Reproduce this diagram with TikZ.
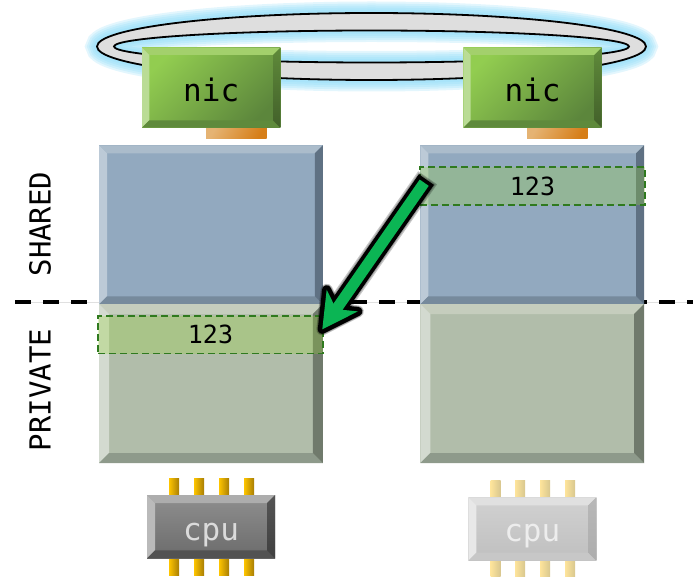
\documentclass[tikz,border=0pt]{standalone}
\usepackage{fontspec}
\setmonofont{DejaVu Sans Mono}
\usetikzlibrary{calc}
\definecolor{glowc}{HTML}{8FDCF8}
\definecolor{arrowg}{HTML}{0BB554}
\definecolor{niclight}{HTML}{92CD50}
\definecolor{nicdark}{HTML}{5C863C}
\definecolor{nicTop}{HTML}{A3D06C}
\definecolor{nicLeft}{HTML}{BADC95}
\definecolor{nicBot}{HTML}{5F8A3C}
\definecolor{nicRA}{HTML}{5F8A3A}
\definecolor{nicRB}{HTML}{42602A}
\definecolor{portlight}{HTML}{E5B373}
\definecolor{portdark}{HTML}{D67E18}
\definecolor{sharedface}{HTML}{92A9BF}
\definecolor{shTop}{HTML}{ABBCCB}
\definecolor{shLeft}{HTML}{BCCAD7}
\definecolor{shBot}{HTML}{768A9C}
\definecolor{shRight}{HTML}{5F7183}
\definecolor{privateface}{HTML}{B1BDAA}
\definecolor{prTop}{HTML}{C5CDBD}
\definecolor{prLeft}{HTML}{D3DAD0}
\definecolor{prBot}{HTML}{8E9A8B}
\definecolor{prRight}{HTML}{707A6C}
\definecolor{stripeline}{HTML}{2F7A1E}
\definecolor{stripefill}{HTML}{96D731}
\definecolor{pinA}{HTML}{FDC400}
\definecolor{pinB}{HTML}{A87E05}
\definecolor{pinC}{HTML}{FEE49B}
\definecolor{pinD}{HTML}{D8C78F}
\newcommand{\bevelon}[7]{%
  \coordinate (i1) at ([shift={(#2,#2)}]#1.north west);
  \coordinate (i2) at ([shift={(-#2,#2)}]#1.north east);
  \coordinate (i3) at ([shift={(-#2,-#2)}]#1.south east);
  \coordinate (i4) at ([shift={(#2,-#2)}]#1.south west);
  \fill[#3] (#1.north west) -- (#1.north east) -- (i2) -- (i1) -- cycle;
  \fill[#4] (#1.north west) -- (i1) -- (i4) -- (#1.south west) -- cycle;
  \fill[#5] (#1.south west) -- (i4) -- (i3) -- (#1.south east) -- cycle;
  \shade[top color=#6,bottom color=#7] (#1.north east) -- (#1.south east) -- (i3) -- (i2) -- cycle;
}
\newcommand{\pinrow}[3]{%
  \foreach \px in {#1}{\shade[#2] (\px,#3) rectangle ++(10,97);}
}
\tikzset{
  boxbase/.style={rectangle,inner sep=0pt,outer sep=0pt,anchor=north west,draw=none},
  nicbox/.style={boxbase,minimum width=138.4pt,minimum height=80pt,top color=niclight,
    bottom color=nicdark,shading angle=45,text height=28pt,text depth=0pt,
    font=\ttfamily\fontsize{31}{31}\selectfont,text=black},
  nicport/.style={boxbase,minimum width=60.5pt,minimum height=11pt,top color=portlight,bottom color=portdark,shading angle=60},
  sharedbox/.style={boxbase,minimum width=223.8pt,minimum height=159pt,fill=sharedface},
  privatebox/.style={boxbase,minimum width=223.8pt,minimum height=159pt,fill=privateface},
  stripe/.style={boxbase,minimum width=225pt,minimum height=37.8pt,draw=stripeline,line width=1.6pt,
    dash pattern=on 7pt off 4pt,fill=stripefill,fill opacity=.27,text opacity=1,
    font=\ttfamily\fontsize{25}{25}\selectfont,text=black},
  cpuA/.style={boxbase,minimum width=128pt,minimum height=63.4pt,top color=black!44,bottom color=black!58,
    text height=26.6pt,text depth=0pt,font=\ttfamily\fontsize{31}{31}\selectfont,text=black!14},
  cpuB/.style={boxbase,minimum width=128pt,minimum height=63.4pt,top color=black!18,bottom color=black!25,
    text height=25.6pt,text depth=0pt,font=\ttfamily\fontsize{31}{31}\selectfont,text=black!7},
  pinstrong/.style={left color=pinA,right color=pinB},
  pinpale/.style={left color=pinC,right color=pinD},
  sidelabel/.style={rotate=90,inner sep=0pt,font=\ttfamily\fontsize{29}{29}\selectfont,text=black},
  ringglow/.style={glowc,opacity=.25,line width=#1},
}
\begin{document}
\begin{tikzpicture}[x=1pt,y=-1pt]
\useasboundingbox (0,0) rectangle (693,577);
% ring
\coordinate (ringc) at (371.5,46.5);
\foreach \w in {23,19,15,11,7}{
  \draw[ringglow=\w pt] (ringc) ellipse [x radius=274.5,y radius=33.5];
  \draw[ringglow=\w pt] (ringc) ellipse [x radius=257.5,y radius=16];
}
\path[draw=black,line width=1.8pt,fill=black!13,even odd rule]
  (ringc) ellipse [x radius=274.5,y radius=33.5]
  (ringc) ellipse [x radius=257.5,y radius=16];
% nics
\node[nicport] (portL) at (206,127.7) {};
\node[nicport] (portR) at (527,127.7) {};
\node[nicbox] (nicL) at (142,47.7) {nic};
\bevelon{nicL}{7.3}{fill=nicTop}{fill=nicLeft}{fill=nicBot}{nicRA}{nicRB}
\node[nicbox] (nicR) at (463.3,47.7) {nic};
\bevelon{nicR}{7.3}{fill=nicTop}{fill=nicLeft}{fill=nicBot}{nicRA}{nicRB}
% divider
\coordinate (divL) at (15,302.3);
\coordinate (divR) at (693,302.3);
\draw[black!12,line width=.8pt] (divL) -- (divR);
\draw[black,line width=3.8pt,dash pattern=on 16pt off 12pt] (divL) -- (divR);
% memory
\node[sharedbox] (shL) at (99,145.3) {};
\bevelon{shL}{8}{fill=shTop}{fill=shLeft}{fill=shBot}{shRight}{shRight}
\node[sharedbox] (shR) at (420.3,145.3) {};
\bevelon{shR}{8}{fill=shTop}{fill=shLeft}{fill=shBot}{shRight}{shRight}
\node[privatebox] (prL) at (99,304) {};
\bevelon{prL}{10}{fill=prTop}{fill=prLeft}{fill=prBot}{prRight}{prRight}
\node[privatebox] (prR) at (420.3,304) {};
\bevelon{prR}{10}{fill=prTop}{fill=prLeft}{fill=prBot}{prRight}{prRight}
% stripes
\node[stripe] (stR) at (420,167.3) {123};
\node[stripe] (stL) at (98,315.7) {123};
% side labels
\node[sidelabel] (lblS) at (40,224) {SHARED};
\node[sidelabel] (lblP) at (40,390) {PRIVATE};
% cpus
\pinrow{169,194,219,244}{pinstrong}{478}
\node[cpuA] (cpuL) at (147,495) {cpu};
\bevelon{cpuL}{8}{fill=black!32}{fill=black!27}{fill=black!68}{black!67}{black!75}
\pinrow{490.5,515,540,565}{pinpale}{480}
\node[cpuB] (cpuR) at (468.3,497.3) {cpu};
\bevelon{cpuR}{8}{fill=black!12}{fill=black!9}{fill=black!22}{black!28}{black!32}
% arrow
\coordinate (arrowfrom) at (424.2,182.7);
\coordinate (arrowto) at (322.3,329.3);
\coordinate (barbA) at ($(arrowto)!35pt!(arrowfrom)!19pt!90:(arrowfrom)$);
\coordinate (barbB) at ($(arrowto)!35pt!(arrowfrom)!19pt!-90:(arrowfrom)$);
\coordinate (notch) at ($(arrowto)!24.5pt!(arrowfrom)$);
\foreach \g/\h/\c in {23/12/6,20.5/10.5/5}{
  \draw[black,opacity=.22,line width=\g pt,shorten >=25pt,shorten <=-\c pt] (arrowfrom) -- (arrowto);
  \draw[black,opacity=.22,line width=\h pt,line join=round] (arrowto) -- (barbA) -- (notch) -- (barbB) -- cycle;
}
\draw[black,line width=18.5pt,shorten >=25pt,shorten <=-3.8pt] (arrowfrom) -- (arrowto);
\draw[black,line width=9pt,line join=round] (arrowto) -- (barbA) -- (notch) -- (barbB) -- cycle;
\fill[arrowg] (arrowto) -- (barbA) -- (notch) -- (barbB) -- cycle;
\draw[arrowg,line width=11pt,shorten >=23pt] (arrowfrom) -- (arrowto);
\end{tikzpicture}
\end{document}
